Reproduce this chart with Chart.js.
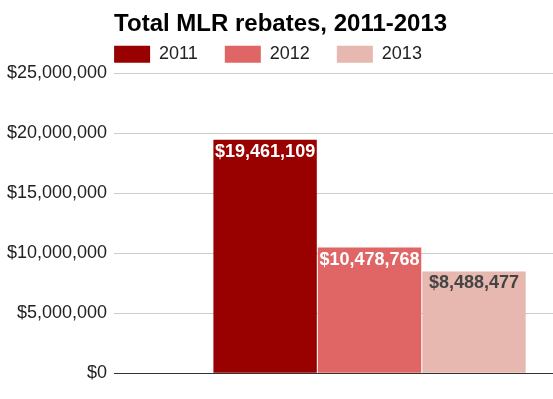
<!DOCTYPE html>
<html>
<head>
<meta charset="utf-8">
<title>Total MLR rebates, 2011-2013</title>
<script src="https://cdn.jsdelivr.net/npm/chart.js@4.4.1/dist/chart.umd.min.js"></script>
<style>
  html, body { margin: 0; padding: 0; background: #fff; overflow: hidden; }
  #wrap { width: 553px; height: 399px; overflow: hidden; }
</style>
</head>
<body>
<div id="wrap"><canvas id="chartRebates" width="625" height="399"></canvas></div>
<script>
// data
const categories = ['Total'];
const years = ['2011', '2012', '2013'];
const rebates2011 = [19461109];
const rebates2012 = [10478768];
const rebates2013 = [8488477];
const yTicks = [0, 5000000, 10000000, 15000000, 20000000, 25000000];

// styles
const barColors = ['#990000', '#e06666', '#e6b8af'];
const labelColors = ['#ffffff', '#ffffff', '#444444'];
const FONT = '"Liberation Sans", Arial, sans-serif';

const formatDollar = (v) => '$' + Number(v).toLocaleString('en-US');

// title + legend start at the plot's left edge, like the original
const alignHeader = {
  id: 'alignHeader',
  afterLayout(chart) {
    const left = chart.chartArea.left;
    chart.titleBlock.left = left;
    chart.legend.left = left - chart.legend.options.labels.padding;
  },
};

// value written inside the top of each bar
const valueLabels = {
  id: 'valueLabels',
  afterDatasetsDraw(chart) {
    const { ctx } = chart;
    ctx.save();
    ctx.font = 'bold 18px ' + FONT;
    ctx.textAlign = 'center';
    ctx.textBaseline = 'alphabetic';
    chart.data.datasets.forEach((ds, i) => {
      chart.getDatasetMeta(i).data.forEach((bar, j) => {
        ctx.fillStyle = labelColors[i];
        ctx.fillText(formatDollar(ds.data[j]), bar.x, bar.y + 17);
      });
    });
    ctx.restore();
  },
};

const series = [rebates2011, rebates2012, rebates2013];

new Chart(document.getElementById('chartRebates'), {
  type: 'bar',
  data: {
    labels: categories,
    datasets: series.map((data, i) => ({
      label: years[i],
      data,
      backgroundColor: barColors[i],
      borderWidth: 0,
      categoryPercentage: 0.6133,
      barPercentage: 0.99,
    })),
  },
  options: {
    responsive: false,
    animation: false,
    devicePixelRatio: 1,
    layout: { padding: { left: 0, right: 0, top: 0, bottom: 25.7 } },
    plugins: {
      title: {
        display: true,
        text: 'Total MLR rebates, 2011-2013',
        align: 'start',
        color: '#000',
        font: { family: FONT, size: 24, weight: 'bold' },
        padding: { top: 9.5, bottom: -20.1 },
      },
      legend: {
        display: true,
        position: 'top',
        align: 'start',
        labels: {
          boxWidth: 36,
          boxHeight: 17,
          padding: 27,
          color: '#222',
          font: { family: FONT, size: 18 },
        },
      },
      tooltip: { enabled: false },
    },
    scales: {
      x: {
        ticks: { display: false },
        grid: { display: false, drawTicks: false },
        border: { display: true, color: '#333', width: 1, z: 1 },
      },
      y: {
        min: yTicks[0],
        max: yTicks[yTicks.length - 1],
        afterBuildTicks: (scale) => {
          scale.ticks = yTicks.map((v) => ({ value: v }));
        },
        grid: { color: '#cccccc', drawTicks: false },
        border: { display: false },
        ticks: {
          padding: 7,
          color: '#222',
          font: { family: FONT, size: 18 },
          callback: (v) => formatDollar(v),
        },
      },
    },
  },
  plugins: [alignHeader, valueLabels],
});
</script>
</body>
</html>
